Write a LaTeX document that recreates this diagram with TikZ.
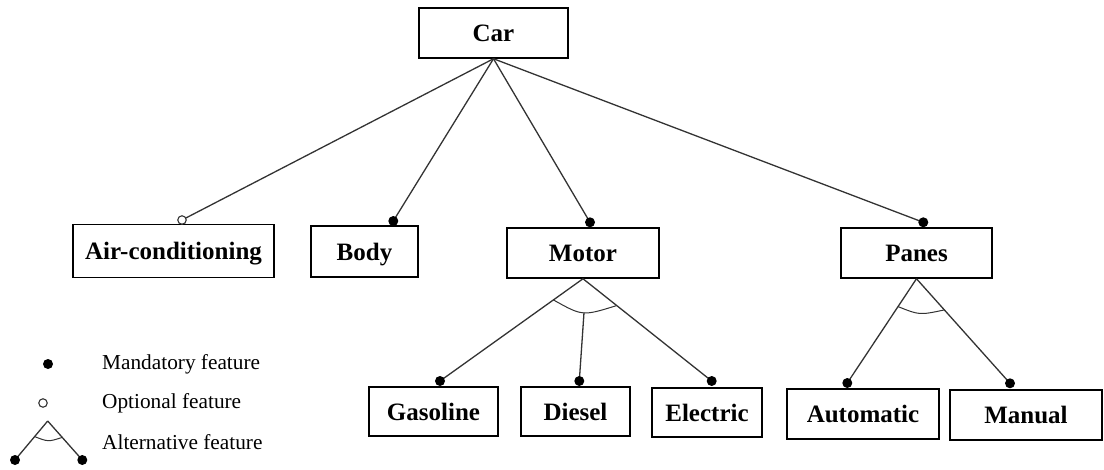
\documentclass[tikz,border=0pt]{standalone}
\usepackage{fontspec}
\setmainfont{Liberation Serif}
\usetikzlibrary{calc}
\begin{document}
\begin{tikzpicture}[x=1pt,y=-1pt,
  feature/.style={draw=black, line width=1.5pt, fill=white, inner sep=0pt,
    minimum height=50pt, text height=17pt, text depth=0pt,
    font=\bfseries\fontsize{25}{29}\selectfont},
  link/.style={draw=black!80, line width=1.3pt},
  mand/.style={circle, fill=black, inner sep=0pt, minimum size=10pt},
  opt/.style={circle, draw=black!80, fill=white, line width=1.1pt, inner sep=0pt, minimum size=8.5pt},
  legendtext/.style={anchor=base west, inner sep=0pt, font=\fontsize{21.3}{25}\selectfont}]
\useasboundingbox (0,0) rectangle (1104,469);

% feature boxes
\node[feature, minimum width=149pt] (car) at (493.5,33) {Car};
\node[feature, minimum width=201pt, minimum height=53pt] (air) at (173.5,251) {Air-conditioning};
\node[feature, minimum width=107pt, minimum height=51pt] (body) at (364.5,251.5) {Body};
\node[feature, minimum width=152pt] (motor) at (583,253) {Motor};
\node[feature, minimum width=151pt] (panes) at (916.5,253) {Panes};
\node[feature, minimum width=129pt, minimum height=49pt] (gas) at (433.5,411.5) {Gasoline};
\node[feature, minimum width=109pt, minimum height=49pt] (diesel) at (575.5,411.5) {Diesel};
\node[feature, minimum width=110pt, minimum height=49pt] (elec) at (707,412.5) {Electric};
\node[feature, minimum width=152pt] (auto) at (863,414) {Automatic};
\node[feature, minimum width=152pt] (manual) at (1026,415) {Manual};

% attachment points just above the child boxes
\coordinate (pAir) at (182,220);
\coordinate (pBody) at (393.3,221);
\coordinate (pMotor) at (590,222.3);
\coordinate (pPanes) at (923.3,222.3);
\coordinate (pGas) at (440,381);
\coordinate (pDiesel) at (579.3,381);
\coordinate (pElec) at (711.7,381);
\coordinate (pAuto) at (847.3,383);
\coordinate (pManual) at (1010,383.3);

% Car's sub-features
\draw[link] (car.south) -- (pAir);
\draw[link] (car.south) -- (pBody);
\draw[link] (car.south) -- (pMotor);
\draw[link] (car.south) -- (pPanes);

% Motor alternatives
\draw[link] (motor.south) -- (pGas);
\draw[link] (motor.south) -- (pElec);
\coordinate (mArcL) at ($(motor.south)!0.207!(pGas)$);
\coordinate (mArcR) at ($(motor.south)!0.262!(pElec)$);
\coordinate (mArcB) at (584,312.7);
\draw[link, line width=1pt] (mArcL) .. controls (582.5,316.2) .. (mArcR);
\draw[link] (mArcB) -- (pDiesel);

% Panes alternatives
\draw[link] (panes.south) -- (pAuto);
\draw[link] (panes.south) -- (pManual);
\coordinate (pArcL) at ($(panes.south)!0.267!(pAuto)$);
\coordinate (pArcR) at ($(panes.south)!0.298!(pManual)$);
\draw[link, line width=1pt] (pArcL) .. controls (919.5,315.2) .. (pArcR);

% end markers
\node[opt] (oAir) at (pAir) {};
\node[mand] (mBody) at (pBody) {};
\node[mand] (mMotor) at (pMotor) {};
\node[mand] (mPanes) at (pPanes) {};
\node[mand] (mGas) at (pGas) {};
\node[mand] (mDiesel) at (pDiesel) {};
\node[mand] (mElec) at (pElec) {};
\node[mand] (mAuto) at (pAuto) {};
\node[mand] (mManual) at (pManual) {};

% legend
\node[mand] (legM) at (48,364) {};
\node[opt] (legO) at (43,403) {};
\coordinate (legApex) at (47.7,421);
\coordinate (legL) at (15,460);
\coordinate (legR) at (82.3,460);
\draw[link] (legApex) -- (legL);
\draw[link] (legApex) -- (legR);
\coordinate (legArcL) at ($(legApex)!0.40!(legL)$);
\coordinate (legArcR) at ($(legApex)!0.42!(legR)$);
\draw[link, line width=1pt] (legArcL) .. controls (48.3,441.9) .. (legArcR);
\node[mand] (legDL) at (legL) {};
\node[mand] (legDR) at (legR) {};

\node[legendtext] (tM) at (102,369) {Mandatory feature};
\node[legendtext] (tO) at (102,408) {Optional feature};
\node[legendtext] (tA) at (102,449) {Alternative feature};
\end{tikzpicture}
\end{document}
